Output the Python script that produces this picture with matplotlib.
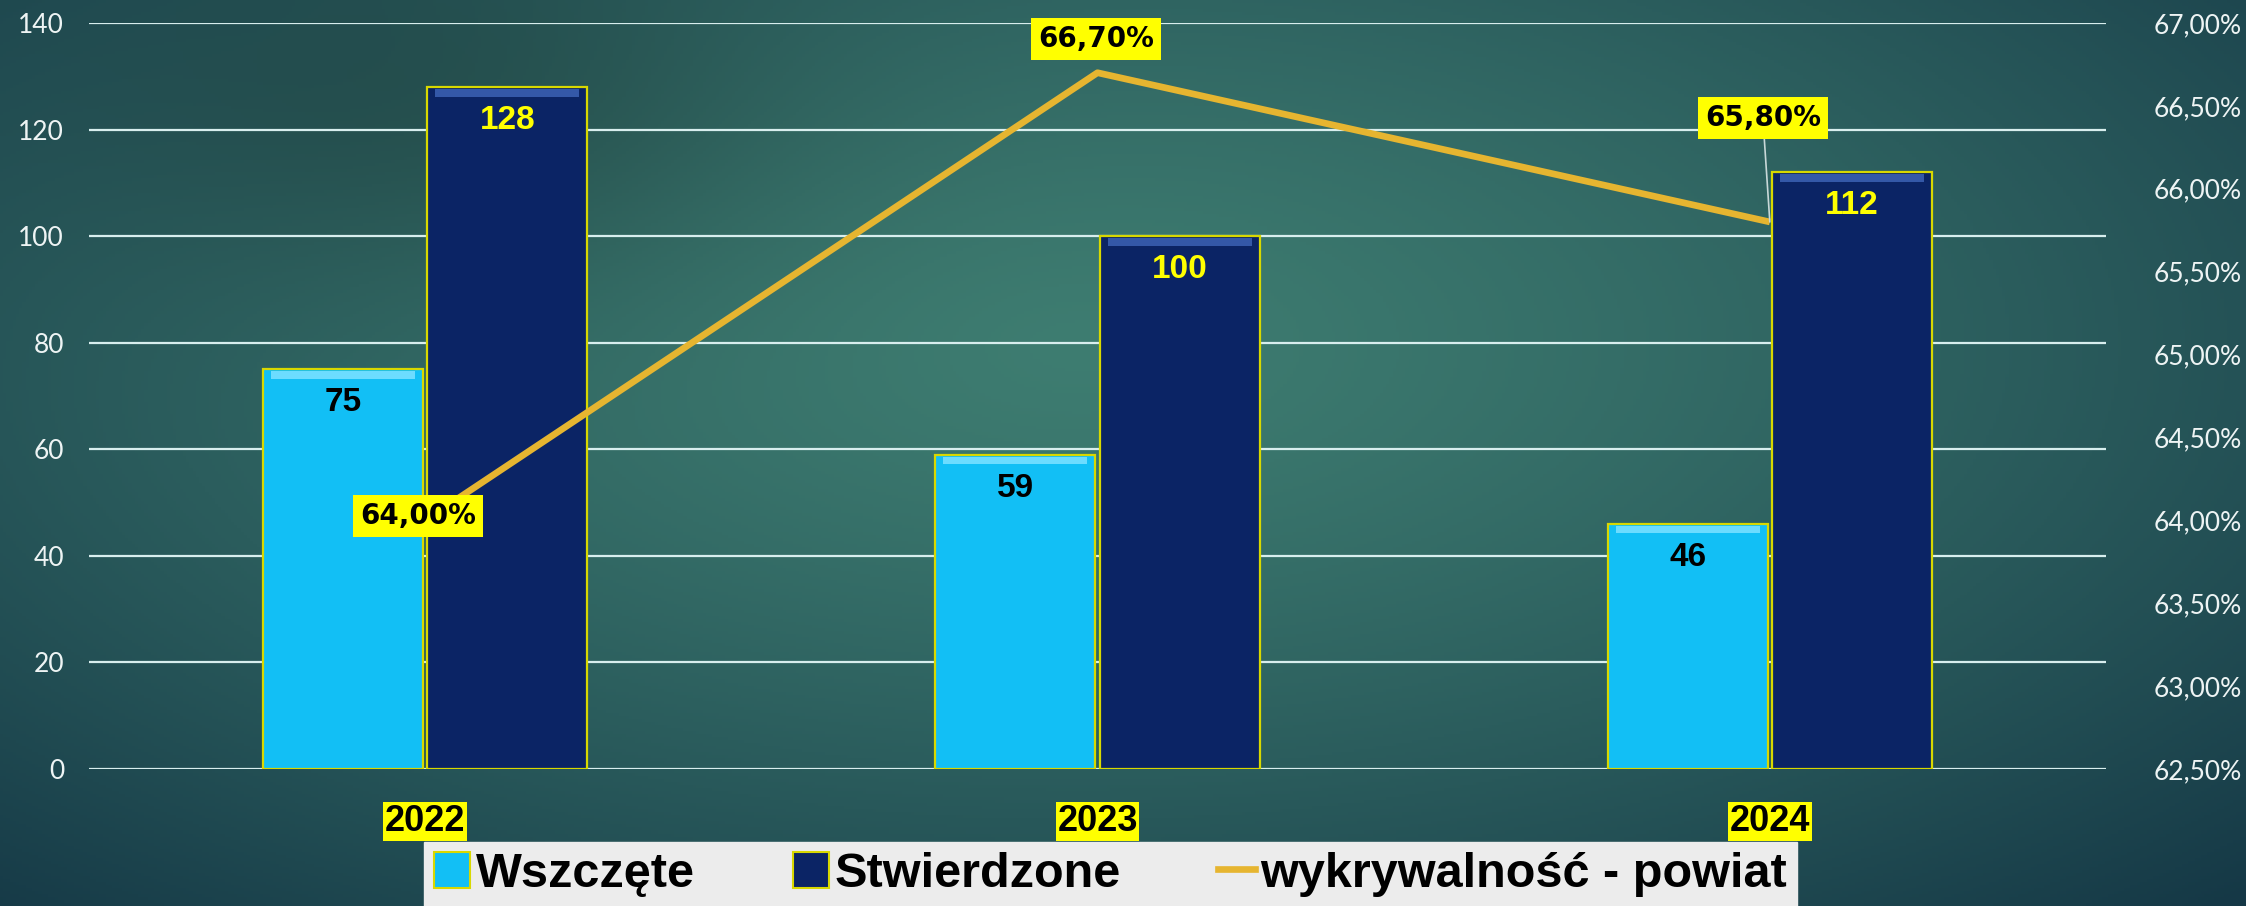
import numpy as np
import matplotlib
matplotlib.use("Agg")
import matplotlib.pyplot as plt
from matplotlib import font_manager
from matplotlib.patches import Patch
from matplotlib.lines import Line2D

# ---- data ----
years = ["2022", "2023", "2024"]
wszczete = [75, 59, 46]
stwierdzone = [128, 100, 112]
wykrywalnosc = [64.00, 66.70, 65.80]
left_ticks = [0, 20, 40, 60, 80, 100, 120, 140]
right_ticks = [62.5, 63.0, 63.5, 64.0, 64.5, 65.0, 65.5, 66.0, 66.5, 67.0]
series_names = ["Wszczęte", "Stwierdzone", "wykrywalność - powiat"]

names = {f.name for f in font_manager.fontManager.ttflist}
BOLD = "Liberation Sans" if "Liberation Sans" in names else "DejaVu Sans"
THIN = "Lato" if "Lato" in names else "DejaVu Sans"

W, H = 2246, 906
fig = plt.figure(figsize=(W / 100, H / 100), dpi=100)

# ---- background gradient ----
bg = fig.add_axes([0, 0, 1, 1], zorder=-10)
yy, xx = np.mgrid[0:1:300j, 0:1:700j]
light = np.array([0x3e, 0x7d, 0x71]) / 255
dark = np.array([0x15, 0x38, 0x46]) / 255
d = np.sqrt(((xx - 0.48) / 0.75) ** 2 + ((yy - 0.38) / 0.85) ** 2)
t = np.clip(d, 0, 1) ** 1.3
img = light[None, None, :] * (1 - t[..., None]) + dark[None, None, :] * t[..., None]
blob = np.exp(-(((xx - 0.2) / 0.16) ** 2 + ((yy - 0.12) / 0.2) ** 2))
img = img * (1 - 0.18 * blob[..., None])
bg.imshow(img, aspect="auto", extent=[0, 1, 1, 0])
bg.set_axis_off()

ax = fig.add_axes([89 / W, 137 / H, (2106 - 89) / W, (769 - 23) / H])
ax.set_facecolor("none")
x = np.arange(len(years))
w = 0.238
off = w / 2 + 0.003

c_light, c_dark = "#12bff5", "#0b2465"
edge = "#d8d800"
ax.bar(x - off, wszczete, w, color=c_light, edgecolor=edge, linewidth=1.6, zorder=3)
ax.bar(x + off, stwierdzone, w, color=c_dark, edgecolor=edge, linewidth=1.6, zorder=3)
# bevel highlights
ax.bar(x - off, [1.4] * 3, w * 0.9, bottom=np.array(wszczete) - 1.8, color="#6cdcff", zorder=3.5)
ax.bar(x + off, [1.4] * 3, w * 0.9, bottom=np.array(stwierdzone) - 1.8, color="#3458a8", zorder=3.5)

for xi, v in zip(x - off, wszczete):
    ax.annotate(str(v), (xi, v), xytext=(0, -13), textcoords="offset points",
                ha="center", va="top", fontsize=24, fontweight="bold",
                family=BOLD, color="black", zorder=5)
for xi, v in zip(x + off, stwierdzone):
    ax.annotate(str(v), (xi, v), xytext=(0, -13), textcoords="offset points",
                ha="center", va="top", fontsize=24, fontweight="bold",
                family=BOLD, color="#ffff00", zorder=5)

ax.set_xlim(-0.5, len(years) - 0.5)
ax.set_ylim(0, 140)
ax.set_yticks(left_ticks)
ax.grid(axis="y", color="#d8eeee", linewidth=1.6, zorder=0)
ax.set_axisbelow(True)
for s in ax.spines.values():
    s.set_visible(False)
ax.tick_params(axis="y", length=0, pad=18, labelsize=19, labelcolor="#eef4f4")
for lbl in ax.get_yticklabels():
    lbl.set_family(THIN)
ax.set_xticks(x)
ax.set_xticklabels(years, fontsize=26, fontweight="bold", family=BOLD, color="black")
ax.tick_params(axis="x", length=0, pad=25)
for lbl in ax.get_xticklabels():
    lbl.set_bbox(dict(boxstyle="square,pad=0.05", fc="#ffff00", ec="none"))

# ---- secondary axis ----
ax2 = ax.twinx()
ax2.set_ylim(62.5, 67.0)
ax2.set_yticks(right_ticks)
ax2.set_yticklabels([f"{v:.2f}%".replace(".", ",") for v in right_ticks])
for s in ax2.spines.values():
    s.set_visible(False)
ax2.tick_params(axis="y", length=0, pad=34, labelsize=19, labelcolor="#eef4f4")
for lbl in ax2.get_yticklabels():
    lbl.set_family(THIN)
ax2.plot(x, wykrywalnosc, color="#e6b530", linewidth=4.8, zorder=6, solid_capstyle="butt")

offsets = [(-5, 3), (-1, 24), (-5, 75)]
for xi, v, o in zip(x, wykrywalnosc, offsets):
    ap = dict(arrowstyle="-", color="#c8d8d8", lw=1.2, shrinkA=0, shrinkB=0) if o[1] > 50 else None
    ax2.annotate(f"{v:.2f}%".replace(".", ","), (xi, v), xytext=o, textcoords="offset points",
                 ha="center", va="center", fontsize=20, fontweight="bold", family="DejaVu Sans",
                 color="black", arrowprops=ap, zorder=7,
                 bbox=dict(boxstyle="square,pad=0.25", fc="#ffff00", ec="none"))

# ---- legend ----
handles = [Patch(facecolor=c_light, edgecolor=edge, linewidth=1.5),
           Patch(facecolor=c_dark, edgecolor=edge, linewidth=1.5),
           Line2D([0], [0], color="#e6b530", linewidth=4.8)]
leg = fig.legend(handles, series_names, loc="upper center", bbox_to_anchor=(0.4945, 64 / H), ncol=3,
                 frameon=True, fancybox=False, facecolor="#ececec", edgecolor="#ececec", framealpha=1,
                 prop=dict(family=BOLD, weight="bold", size=35), handlelength=0.75, handleheight=0.75,
                 handletextpad=0.12, columnspacing=2.0, borderpad=0.2, borderaxespad=0)
for txt in leg.get_texts():
    txt.set_fontstretch("condensed")

fig.savefig("out.png", dpi=100)
